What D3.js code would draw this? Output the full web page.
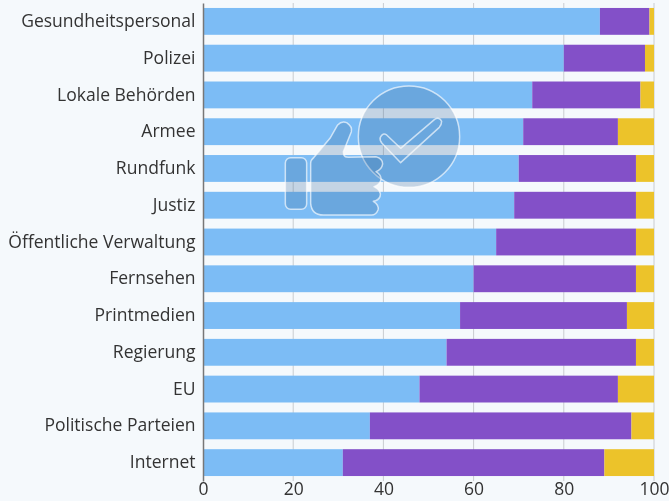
<!DOCTYPE html>
<html>
<head>
<meta charset="utf-8">
<script src="https://cdnjs.cloudflare.com/ajax/libs/d3/7.8.5/d3.min.js"></script>
<style>
  html, body { margin: 0; padding: 0; background: #f5f9fc; }
  svg { display: block; filter: blur(0.35px); }
  text { font-family: "Open Sans", sans-serif; fill: #333; }
</style>
</head>
<body>
<svg id="chart" width="669" height="501"></svg>
<script>
const categories = ["Gesundheitspersonal", "Polizei", "Lokale Behörden", "Armee", "Rundfunk", "Justiz",
  "Öffentliche Verwaltung", "Fernsehen", "Printmedien", "Regierung", "EU", "Politische Parteien", "Internet"]
const trust    = [88, 80, 73, 71, 70, 69, 65, 60, 57, 54, 48, 37, 31]
const distrust = [11, 18, 24, 21, 26, 27, 31, 36, 37, 42, 44, 58, 58]
const unsure   = [ 1,  2,  3,  8,  4,  4,  4,  4,  6,  4,  8,  5, 11]
const xTicks = [0, 20, 40, 60, 80, 100]
const colors = ["#7cbcf5", "#8350c8", "#ecc32a"]

const svg = d3.select("#chart")

const x = d3.scaleLinear().domain([0, 100]).range([203, 654])
const y = d3.scaleBand().domain(categories).range([3, 481]).paddingInner(0.27).paddingOuter(0.135)

// grid goes behind the bars
svg.append("g").selectAll("line")
  .data(xTicks.slice(1))
  .join("line")
    .attr("x1", d => x(d)).attr("x2", d => x(d))
    .attr("y1", 3).attr("y2", 481)
    .attr("stroke", "#c9ccd0")
    .attr("stroke-width", 1)

const rows = categories.map((c, i) => ({c, vals: [trust[i], distrust[i], unsure[i]]}))

const row = svg.append("g").selectAll("g")
  .data(rows)
  .join("g")

row.selectAll("rect")
  .data(d => {
    let sum = 0
    return d.vals.map((v, i) => {
      const start = sum
      sum += v
      return {c: d.c, start, end: sum, i}
    })
  })
  .join("rect")
    .attr("x", d => x(d.start))
    .attr("width", d => x(d.end) - x(d.start))
    .attr("y", d => y(d.c))
    .attr("height", y.bandwidth())
    .attr("fill", d => colors[d.i])

// y axis
const yAxis = svg.append("g")
  .attr("transform", "translate(203,0)")
  .call(d3.axisLeft(y).tickSize(0).tickPadding(7.5))
yAxis.select(".domain").attr("stroke", "#777").attr("stroke-width", 1.5)
yAxis.selectAll("text").style("font-size", "17.55px")

// x axis, only the labels show
const xAxis = svg.append("g")
  .attr("transform", "translate(0,481)")
  .call(d3.axisBottom(x).tickValues(xTicks).tickSize(0).tickPadding(2))
xAxis.select(".domain").remove()
xAxis.selectAll("text").style("font-size", "17.5px")

// thumbs up and check mark badge over the chart
const iconFill = "rgba(52,105,157,0.25)"
const iconStroke = "rgba(255,255,255,0.65)"
const icon = svg.append("g")
  .attr("transform", "translate(270,80) scale(0.3333)")
  .attr("fill", iconFill)
  .attr("stroke", iconStroke)
  .attr("stroke-width", 4.5)
  .attr("stroke-linejoin", "round")

icon.append("circle").attr("cx", 417).attr("cy", 170).attr("r", 152)
icon.append("path")
  .attr("fill", "none")
  .attr("d", "M331 172 Q338 157 350 165 L392 205 L494 118 Q508 110 515 124 Q515 134 508 142 L392 248 L336 190 Q328 180 331 172 Z")
icon.append("rect")
  .attr("x", 46).attr("y", 233).attr("width", 64).attr("height", 155).attr("rx", 16)
icon.append("path")
  .attr("d", "M122 250 Q122 240 132 232 L180 175 L203 135 Q215 122 230 128 Q248 140 244 155 L220 215 Q220 232 235 232 L318 230 Q338 235 338 252 Q335 270 318 275 Q335 285 333 300 Q328 315 312 320 Q336 332 330 350 Q325 362 310 364 Q328 375 324 390 Q318 405 305 405 L160 405 Q125 405 122 370 Z")
</script>
</body>
</html>
